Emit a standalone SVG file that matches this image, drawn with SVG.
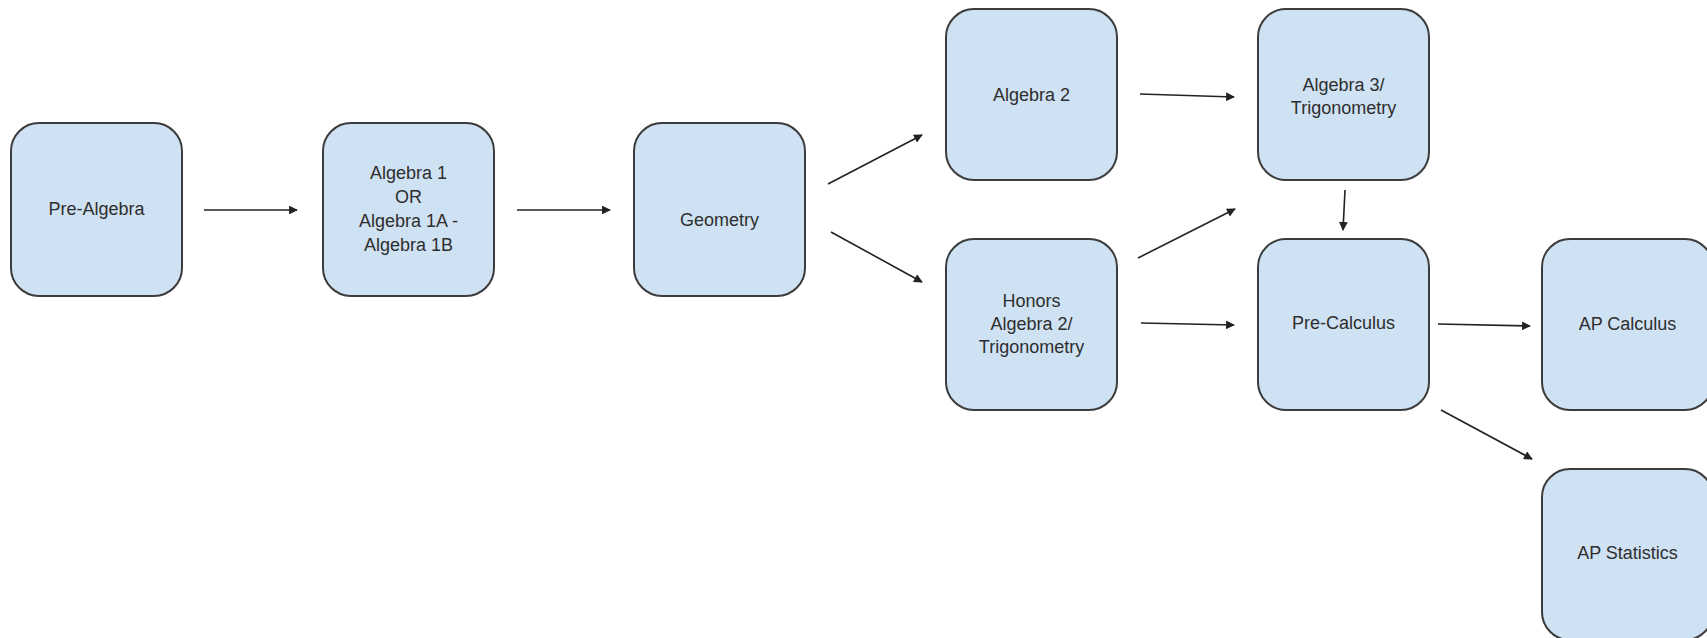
<svg xmlns="http://www.w3.org/2000/svg" width="1707" height="638" viewBox="0 0 1707 638">
  <style>
    .box { fill: #cfe2f3; stroke: #3c3c3c; stroke-width: 2; }
    .lbl { font-family: "Liberation Sans", Arial, sans-serif; font-size: 18px; fill: #2e2e2e; text-anchor: middle; }
    .edge { stroke: #222222; stroke-width: 1.6; fill: none; marker-end: url(#arrow); }
  </style>
  <defs>
    <marker id="arrow" viewBox="0 0 10 10" refX="9" refY="5" markerWidth="6" markerHeight="5.5" orient="auto" markerUnits="strokeWidth">
      <path d="M0,0 L10,5 L0,10 z" fill="#222222"/>
    </marker>
  </defs>
  <rect width="1707" height="638" fill="#ffffff"/>

  <g id="connectors">
    <line class="edge" x1="204" y1="210" x2="297" y2="210"/>
    <line class="edge" x1="517" y1="210" x2="610" y2="210"/>
    <line class="edge" x1="828" y1="184" x2="922" y2="135"/>
    <line class="edge" x1="831" y1="232" x2="922" y2="282"/>
    <line class="edge" x1="1140" y1="94" x2="1234" y2="97"/>
    <line class="edge" x1="1138" y1="258" x2="1235" y2="209"/>
    <line class="edge" x1="1141" y1="323" x2="1234" y2="325"/>
    <line class="edge" x1="1345" y1="190" x2="1343" y2="230"/>
    <line class="edge" x1="1438" y1="324" x2="1530" y2="326"/>
    <line class="edge" x1="1441" y1="410" x2="1532" y2="459"/>
  </g>

  <g id="pre-algebra">
    <rect class="box" x="11" y="123" width="171" height="173" rx="28"/>
    <text class="lbl" x="96.5" y="215">Pre-Algebra</text>
  </g>
  <g id="algebra-1">
    <rect class="box" x="323" y="123" width="171" height="173" rx="28"/>
    <text class="lbl" x="408.5" y="179">Algebra 1</text>
    <text class="lbl" x="408.5" y="203">OR</text>
    <text class="lbl" x="408.5" y="227">Algebra 1A -</text>
    <text class="lbl" x="408.5" y="251">Algebra 1B</text>
  </g>
  <g id="geometry">
    <rect class="box" x="634" y="123" width="171" height="173" rx="28"/>
    <text class="lbl" x="719.5" y="226">Geometry</text>
  </g>
  <g id="algebra-2">
    <rect class="box" x="946" y="9" width="171" height="171" rx="28"/>
    <text class="lbl" x="1031.5" y="101">Algebra 2</text>
  </g>
  <g id="honors-algebra-2">
    <rect class="box" x="946" y="239" width="171" height="171" rx="28"/>
    <text class="lbl" x="1031.5" y="307">Honors</text>
    <text class="lbl" x="1031.5" y="330">Algebra 2/</text>
    <text class="lbl" x="1031.5" y="353">Trigonometry</text>
  </g>
  <g id="algebra-3">
    <rect class="box" x="1258" y="9" width="171" height="171" rx="28"/>
    <text class="lbl" x="1343.5" y="91">Algebra 3/</text>
    <text class="lbl" x="1343.5" y="114">Trigonometry</text>
  </g>
  <g id="pre-calculus">
    <rect class="box" x="1258" y="239" width="171" height="171" rx="28"/>
    <text class="lbl" x="1343.5" y="329">Pre-Calculus</text>
  </g>
  <g id="ap-calculus">
    <rect class="box" x="1542" y="239" width="171" height="171" rx="28"/>
    <text class="lbl" x="1627.5" y="330">AP Calculus</text>
  </g>
  <g id="ap-statistics">
    <rect class="box" x="1542" y="469" width="171" height="171" rx="28"/>
    <text class="lbl" x="1627.5" y="559">AP Statistics</text>
  </g>
</svg>
